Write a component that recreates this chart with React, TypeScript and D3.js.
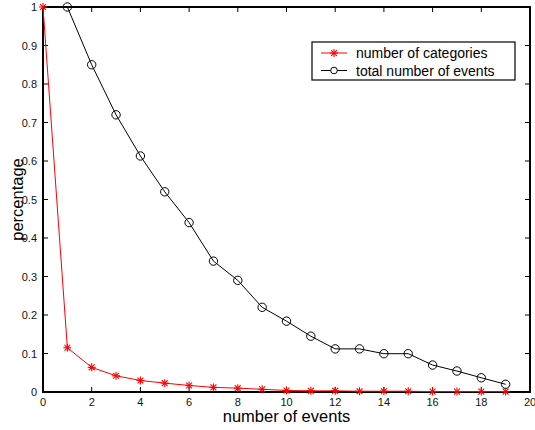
import React from "react";
import * as d3 from "d3";

const categoriesX = [0,1,2,3,4,5,6,7,8,9,10,11,12,13,14,15,16,17,18,19];
const categoriesY = [1.0,0.115,0.064,0.042,0.030,0.023,0.017,0.012,0.010,0.007,0.004,0.003,0.003,0.002,0.002,0.002,0.001,0.001,0.001,0.001];
const eventsX = [1,2,3,4,5,6,7,8,9,10,11,12,13,14,15,16,17,18,19];
const eventsY = [1.0,0.85,0.72,0.613,0.52,0.44,0.34,0.29,0.22,0.184,0.145,0.112,0.112,0.0995,0.0995,0.07,0.0545,0.037,0.02];
const xTicks = [0,2,4,6,8,10,12,14,16,18,20];
const yTicks = [0,0.1,0.2,0.3,0.4,0.5,0.6,0.7,0.8,0.9,1];
const legendLabels = ["number of categories","total number of events"];

const W = 535, H = 430;
const L = 43, R = 530, T = 7, B = 392;
const FONT = "Liberation Sans, Arial, Helvetica, sans-serif";

function Star({ x, y, color }: { x: number; y: number; color: string }) {
  const s = 4, d = 2.9;
  return (
    <g stroke={color} strokeWidth={1.1}>
      <line x1={x - s} y1={y} x2={x + s} y2={y} />
      <line x1={x} y1={y - s} x2={x} y2={y + s} />
      <line x1={x - d} y1={y - d} x2={x + d} y2={y + d} />
      <line x1={x - d} y1={y + d} x2={x + d} y2={y - d} />
    </g>
  );
}

export default function App() {
  const x = d3.scaleLinear().domain([0, 20]).range([L, R]);
  const y = d3.scaleLinear().domain([0, 1]).range([B, T]);
  const line = d3.line<[number, number]>().x(d => x(d[0])).y(d => y(d[1]));
  const redPts: [number, number][] = categoriesX.map((v, i) => [v, categoriesY[i]]);
  const blackPts: [number, number][] = eventsX.map((v, i) => [v, eventsY[i]]);
  const tl = 5;
  return (
    <svg width={W} height={H} style={{ position: "absolute", left: 0, top: 0, background: "#fff" }}>
      <rect x={0} y={0} width={W} height={H} fill="#fff" />
      {xTicks.map(t => (
        <g key={"xt" + t}>
          <line x1={x(t)} x2={x(t)} y1={B} y2={B - tl} stroke="#000" strokeWidth={1} />
          <line x1={x(t)} x2={x(t)} y1={T} y2={T + tl} stroke="#000" strokeWidth={1} />
          <text x={x(t)} y={B + 13.5} fontSize={11} fontFamily={FONT} textAnchor="middle" fill="#111">{t}</text>
        </g>
      ))}
      {yTicks.map(t => (
        <g key={"yt" + t}>
          <line x1={L} x2={L + tl} y1={y(t)} y2={y(t)} stroke="#000" strokeWidth={1} />
          <line x1={R} x2={R - tl} y1={y(t)} y2={y(t)} stroke="#000" strokeWidth={1} />
          <text x={L - 6} y={y(t) + 4} fontSize={11} fontFamily={FONT} textAnchor="end" fill="#111">{t}</text>
        </g>
      ))}
      <rect x={L} y={T} width={R - L} height={B - T} fill="none" stroke="#000" strokeWidth={2} />
      <path d={line(blackPts) || ""} fill="none" stroke="#000" strokeWidth={1} />
      {blackPts.map((p, i) => (
        <circle key={"c" + i} cx={x(p[0])} cy={y(p[1])} r={4.2} fill="none" stroke="#000" strokeWidth={1} />
      ))}
      <path d={line(redPts) || ""} fill="none" stroke="#ff0000" strokeWidth={1} />
      {redPts.map((p, i) => (
        <Star key={"s" + i} x={x(p[0])} y={y(p[1])} color="#ff0000" />
      ))}
      <rect x={312} y={42} width={203} height={38} fill="#fff" stroke="#000" strokeWidth={1.2} />
      <line x1={321} x2={347} y1={53} y2={53} stroke="#ff0000" strokeWidth={1} />
      <Star x={334} y={53} color="#ff0000" />
      <text x={356} y={58} fontSize={14} fontFamily={FONT} fill="#000">{legendLabels[0]}</text>
      <line x1={321} x2={347} y1={70.5} y2={70.5} stroke="#000" strokeWidth={1} />
      <circle cx={334} cy={70.5} r={3.3} fill="#fff" stroke="#000" strokeWidth={1} />
      <text x={356} y={75.5} fontSize={14} fontFamily={FONT} fill="#000">{legendLabels[1]}</text>
      <text x={(L + R) / 2} y={421.5} fontSize={16.5} fontFamily={FONT} textAnchor="middle" fill="#000">number of events</text>
      <text transform={`translate(23,${(T + B) / 2}) rotate(-90)`} fontSize={16.5} fontFamily={FONT} textAnchor="middle" fill="#000">percentage</text>
    </svg>
  );
}
